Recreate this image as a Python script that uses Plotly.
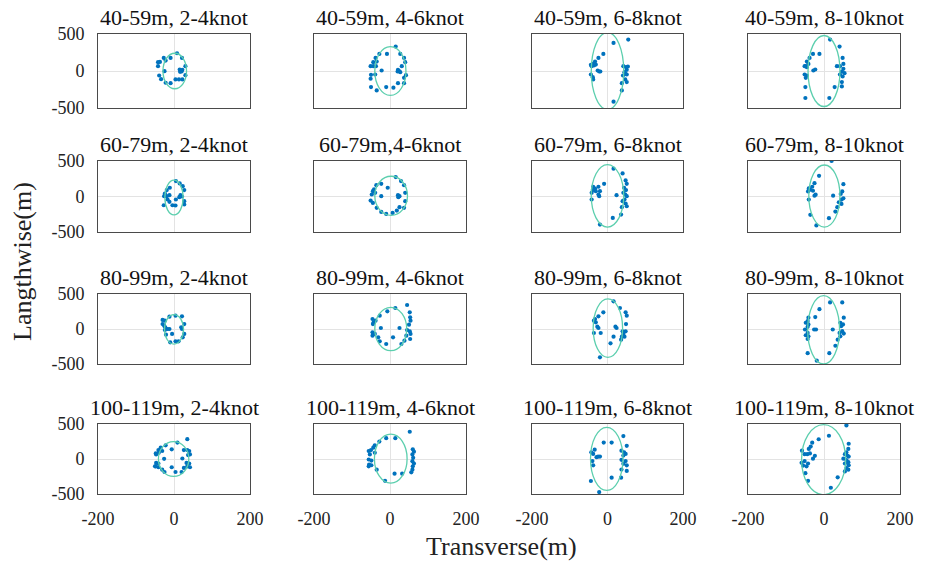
import plotly.graph_objects as go

# ---- panel titles (rows: ship length, columns: wind speed) ----
TITLES = [
    ["40-59m, 2-4knot", "40-59m, 4-6knot", "40-59m, 6-8knot", "40-59m, 8-10knot"],
    ["60-79m, 2-4knot", "60-79m,4-6knot", "60-79m, 6-8knot", "60-79m, 8-10knot"],
    ["80-99m, 2-4knot", "80-99m, 4-6knot", "80-99m, 6-8knot", "80-99m, 8-10knot"],
    ["100-119m, 2-4knot", "100-119m, 4-6knot", "100-119m, 6-8knot", "100-119m, 8-10knot"],
]

X_TICKS = [-200, 0, 200]
Y_TICKS = [-500, 0, 500]

# ---- deviations (transverse x, lengthwise y), metres ----
x40_2 = [8, 21, -42, -37, -27, -22, -9, -42, 30, -25, 15, 22, 20, 16, -39, -34, -22, -9, 4, 13, 22, 30]
y40_2 = [240, 177, 119, 123, 177, 141, 177, 65, 65, -2, 20, 16, -7, -11, -61, -110, -159, -164, -114, -114, -114, -56]

x40_4 = [15, -28, -8, 27, -38, 37, -44, -35, 40, -51, -44, -37, 31, -22, 21, 24, 20, 27, -50, -39, 42, 37, -51, 37, 21, -50, -35, -10, 9]
y40_4 = [330, 231, 231, 231, 177, 177, 119, 128, 119, 65, 65, 65, 65, 7, 16, -2, -7, -16, -52, -47, -56, -92, -105, -164, -164, -217, -262, -217, -226]

x40_6 = [55, 16, -11, -24, -33, -39, -36, -31, -42, -44, -26, -22, -19, -44, -39, -38, 42, 49, 54, 51, 45, 51, 48, 41, 47, 51, 38, 38, 16]
y40_6 = [424, 379, 231, 177, 128, 96, 74, 87, 65, 83, 7, -7, -7, -47, -83, -114, 65, 52, 61, 16, -16, -47, -40, -61, -114, -150, -164, -262, -415]

x40_8 = [16, 41, -12, -29, -38, -45, -41, -48, -45, -51, -23, -28, 34, 49, 51, 42, 51, 47, 54, 42, 49, -51, -45, -48, 47, 47, -49, 28, -49, 14]
y40_8 = [424, 330, 231, 231, 177, 128, 96, 65, 52, 65, 20, 7, 65, 177, 96, 65, 29, -7, -29, -47, -74, -47, -61, -92, -150, -209, -217, -217, -365, -365]

x60_2 = [5, 15, -11, -19, 23, 27, -24, -26, -19, -12, 17, 21, 14, 27, 27, -27, -12, -4, 4, -17, 5]
y60_2 = [217, 184, 123, 90, 146, 90, 42, 5, 5, 19, 19, 0, -9, -66, -113, -123, -75, -123, -127, -42, -42]

x60_4 = [15, 29, -23, -36, -6, 37, -42, -45, -39, -48, -23, 21, 25, 22, 40, -51, -45, 40, 37, 25, -35, -23, -10, 7, 18]
y60_4 = [274, 217, 179, 160, 123, 160, 99, 75, 52, 28, 5, 19, 5, -9, 52, -57, -90, -66, -160, -151, -160, -217, -245, -231, -198]

x60_6 = [16, 40, -9, -24, -38, -33, -31, -39, -20, -42, -24, -22, 24, 48, 51, 44, 49, 42, 47, 51, 45, 40, 48, 51, 38, -42, 14, -20, 36]
y60_6 = [392, 325, 179, 137, 137, 113, 75, 90, 75, 52, 28, 5, 19, 226, 179, 123, 90, 52, 28, 5, -42, -66, -99, -137, -151, -42, -302, -396, -255]

x60_8 = [20, -13, -25, 51, -31, -40, -36, -29, -42, -22, -25, 24, 48, 44, 51, 46, 39, 46, 35, 30, -40, -36, 13, -20]
y60_8 = [500, 291, 188, 174, 137, 114, 95, 81, 72, 26, 12, 12, 72, 35, -26, -44, -81, -105, -151, -212, -44, -258, -305, -407]

x80_2 = [4, 21, -12, -30, -24, -30, -26, -23, -17, -24, 19, 27, 21, 27, 23, -5, 4, -10, 12, -21, -12]
y80_2 = [190, 181, 176, 129, 119, 71, 48, 24, 0, -14, 24, 71, 0, -71, -119, -71, -176, -190, -176, -81, 0]

x80_4 = [45, 14, -7, -27, -38, -46, -43, -45, 52, 53, 54, 50, 45, 52, 54, 53, 43, -24, 25, 8, -46, -40, -46, -31, -27, -10, 30, 38]
y80_4 = [343, 300, 252, 190, 119, 143, 95, 71, 238, 167, 119, 62, -14, -33, -71, -143, -95, 14, 14, -119, -48, -71, -95, -119, -176, -214, -214, -167]

x80_6 = [16, 33, 48, 51, -11, -24, -33, -36, -31, -27, -24, -36, -18, 21, 24, 49, 40, 48, 42, 38, 45, 36, 16, 8, -20]
y80_6 = [395, 300, 238, 190, 238, 181, 143, 119, 95, 33, 14, -57, -57, 33, 14, 71, -33, -33, -71, -110, -110, -152, -110, -205, -405]

x80_8 = [16, 48, -12, -23, -41, 52, -43, -48, -41, -43, -50, -43, -48, -41, -43, -26, -21, 23, 43, 50, 45, 48, 41, 52, 43, 36, 30, -43, 14, -19]
y80_8 = [379, 379, 283, 171, 162, 162, 114, 89, 65, 31, -7, -56, -89, -104, -143, -7, -7, -7, 89, 65, 41, -31, -56, -65, -104, -152, -239, -345, -345, -452]

x100_2 = [35, 9, -22, -35, -41, -47, -48, -40, -31, -6, 26, 35, 40, 42, 37, -26, 22, -47, -41, -48, -41, -50, -31, -25, -6, 4, 20, 26, 35, 40, 42, 33]
y100_2 = [283, 234, 196, 162, 128, 65, 80, 89, 114, 138, 128, 128, 114, 65, 56, 2, 7, -56, -65, -104, -118, -104, -152, -186, -118, -186, -186, -128, -104, -65, -118, -56]

x100_4 = [52, 14, -10, -28, -40, -44, -50, -56, -40, -53, -56, -49, -55, -49, -56, -35, -13, 12, 32, 56, 59, 60, 63, 59, 61, 59, 63, 60]
y100_4 = [389, 297, 297, 249, 196, 162, 128, 114, 89, 65, -7, -22, -80, -89, -104, -152, -312, -210, -210, -191, -152, -104, -65, -31, 17, 65, 104, 138]

x100_6 = [42, -10, 11, 51, -34, -43, -38, -29, -25, -20, 37, 44, 48, 42, 37, 48, 42, 51, 37, 51, -40, -38, 11, 36, -44, -22]
y100_6 = [328, 235, 235, 188, 133, 95, 72, 26, 35, 35, 119, 95, 72, 49, -12, -30, -67, -91, -151, -170, -30, -91, -267, -267, -314, -472]

x100_8 = [59, 13, -14, -31, -35, -40, -58, -51, -44, -37, -29, -24, -59, -55, -46, -42, -51, -49, -42, 18, 36, 65, 64, 59, 55, 62, 65, 51, 59, 64, 55, 65, 59, 64, 55]
y100_8 = [480, 332, 282, 233, 178, 144, 119, 69, 69, 79, 5, 45, -54, -94, -104, -64, -30, -203, -312, -411, -262, 218, 144, 94, 69, 45, 35, 5, -15, -45, -64, -89, -129, -153, -178]

# ---- fitted error ellipses: centre (x, y) and semi-axes (a, b) per panel ----
ELL_CX = [[2, 1, 0, 0], [0, 3, 0, 1], [0, 2, 1, -1], [-1, 2, -2, -1]]
ELL_CY = [[0, 0, 0, 0], [-15, 10, 10, 7], [-5, 0, 12, -12], [0, 5, 2, -10]]
ELL_A = [[31, 41, 43, 42], [24, 43, 43, 41], [25, 42, 39, 42], [40, 43, 43, 58]]
ELL_B = [[240, 330, 520, 480], [245, 275, 440, 437], [210, 310, 417, 488], [249, 350, 451, 500]]

SERIES = [
    [(x40_2, y40_2), (x40_4, y40_4), (x40_6, y40_6), (x40_8, y40_8)],
    [(x60_2, y60_2), (x60_4, y60_4), (x60_6, y60_6), (x60_8, y60_8)],
    [(x80_2, y80_2), (x80_4, y80_4), (x80_6, y80_6), (x80_8, y80_8)],
    [(x100_2, y100_2), (x100_4, y100_4), (x100_6, y100_6), (x100_8, y100_8)],
]

# ---- page geometry (pixels) ----
W, H = 925, 567
COL_PX = [(98, 250), (314, 466), (532, 683), (748, 900)]
ROW_PX = [(34, 108), (161, 232), (294, 364), (424, 494)]

FONT = "Liberation Serif"
DOT = "#0072BD"
ELL = "#5ccfae"
FRAME = "#4a4a4a"
GRID = "#e3e3e3"

fig = go.Figure()
layout = {}
annotations = []
shapes = []

for r in range(4):
    for c in range(4):
        k = r * 4 + c + 1
        xa = "xaxis" if k == 1 else f"xaxis{k}"
        ya = "yaxis" if k == 1 else f"yaxis{k}"
        xr = "x" if k == 1 else f"x{k}"
        yr = "y" if k == 1 else f"y{k}"
        x0, x1 = COL_PX[c]
        t0, t1 = ROW_PX[r]
        layout[xa] = dict(
            domain=[x0 / W, x1 / W], anchor=yr, range=[-200, 200],
            tickvals=X_TICKS, ticktext=[str(v) for v in X_TICKS],
            showticklabels=(r == 3), ticks="", ticklabelstandoff=8,
            showgrid=True, gridcolor=GRID, gridwidth=1, zeroline=False,
            showline=True, mirror=True, linecolor=FRAME, linewidth=1,
            tickfont=dict(family=FONT, size=18, color="#222"),
            automargin=False, fixedrange=True,
        )
        layout[ya] = dict(
            domain=[1 - t1 / H, 1 - t0 / H], anchor=xr, range=[-500, 500],
            tickvals=Y_TICKS, ticktext=[str(v) for v in Y_TICKS],
            showticklabels=(c == 0), ticks="", ticklabelstandoff=9,
            showgrid=True, gridcolor=GRID, gridwidth=1, zeroline=False,
            showline=True, mirror=True, linecolor=FRAME, linewidth=1,
            tickfont=dict(family=FONT, size=18, color="#222"),
            automargin=False, fixedrange=True,
        )
        # error ellipse
        cx, cy = ELL_CX[r][c], ELL_CY[r][c]
        a, b = ELL_A[r][c], ELL_B[r][c]
        shapes.append(dict(
            type="circle", xref=xr, yref=yr,
            x0=cx - a, x1=cx + a, y0=cy - b, y1=cy + b,
            line=dict(color=ELL, width=1.3), layer="above",
        ))
        xs, ys = SERIES[r][c]
        fig.add_trace(go.Scatter(
            x=xs, y=ys, mode="markers", xaxis=xr, yaxis=yr,
            marker=dict(color=DOT, size=4.2, line=dict(width=0)),
            showlegend=False, hoverinfo="x+y",
        ))
        annotations.append(dict(
            text=TITLES[r][c], xref="paper", yref="paper",
            x=(x0 + x1) / 2 / W, y=1 - t0 / H,
            xanchor="center", yanchor="bottom", yshift=2, showarrow=False,
            font=dict(family=FONT, size=22, color="#111"),
        ))

annotations.append(dict(
    text="Langthwise(m)", xref="paper", yref="paper",
    x=22 / W, y=1 - 262 / H, xanchor="center", yanchor="middle",
    textangle=-90, showarrow=False,
    font=dict(family=FONT, size=26, color="#222"),
))
annotations.append(dict(
    text="Transverse(m)", xref="paper", yref="paper",
    x=501 / W, y=1 - 546 / H, xanchor="center", yanchor="middle",
    showarrow=False,
    font=dict(family=FONT, size=26, color="#222"),
))

fig.update_layout(
    width=W, height=H, autosize=False,
    margin=dict(l=0, r=0, t=0, b=0, pad=0, autoexpand=False),
    showlegend=False,
    paper_bgcolor="white", plot_bgcolor="white",
    annotations=annotations, shapes=shapes,
    **layout,
)

fig.write_html("out.html")
